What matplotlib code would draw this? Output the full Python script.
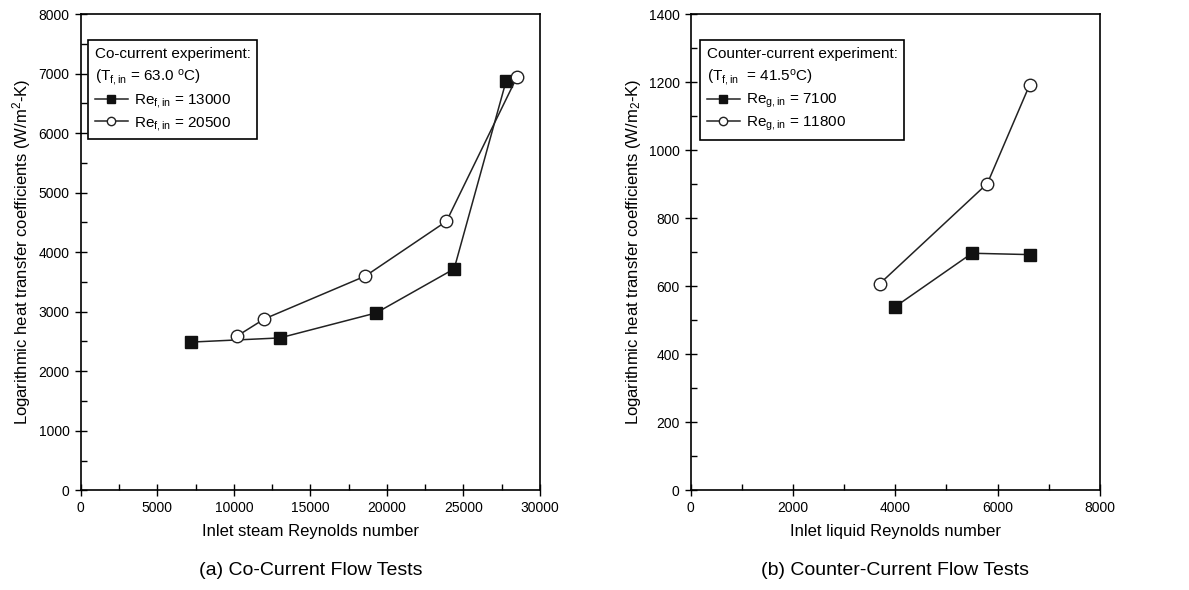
import matplotlib
matplotlib.use('Agg')
import matplotlib.pyplot as plt
from matplotlib.ticker import MultipleLocator

plt.rcParams['font.family'] = ['Liberation Sans', 'DejaVu Sans']
plt.rcParams['mathtext.fontset'] = 'custom'
plt.rcParams['mathtext.rm'] = 'Liberation Sans'
plt.rcParams['mathtext.it'] = 'Liberation Sans'

# (a) co-current flow
co_x_13000 = [7200, 13000, 19300, 24400, 27800]
co_y_13000 = [2490, 2560, 2980, 3720, 6880]
co_x_20500 = [10200, 12000, 18600, 23900, 28500]
co_y_20500 = [2590, 2880, 3600, 4520, 6940]

# (b) counter-current flow
cc_x_7100 = [4000, 5500, 6630]
cc_y_7100 = [540, 697, 693]
cc_x_11800 = [3700, 5800, 6630]
cc_y_11800 = [608, 902, 1193]

fig = plt.figure(figsize=(11.89, 5.90), dpi=100)
ax1 = fig.add_axes([0.068, 0.169, 0.386, 0.807])
ax2 = fig.add_axes([0.581, 0.169, 0.344, 0.807])


def style_axes(ax, xmax, xmaj, ymax, ymaj):
    ax.set_xlim(0, xmax)
    ax.set_ylim(0, ymax)
    ax.xaxis.set_major_locator(MultipleLocator(xmaj))
    ax.xaxis.set_minor_locator(MultipleLocator(xmaj / 2))
    ax.yaxis.set_major_locator(MultipleLocator(ymaj))
    ax.yaxis.set_minor_locator(MultipleLocator(ymaj / 2))
    ax.tick_params(which='major', direction='inout', length=8, width=1, labelsize=10, pad=4)
    ax.tick_params(which='minor', direction='in', length=4, width=1)
    for s in ax.spines.values():
        s.set_linewidth(1.2)


def add_series(ax, xs1, ys1, lab1, xs2, ys2, lab2):
    ax.plot(xs1, ys1, '-', color='#222222', lw=1.1, marker='s', ms=8,
            mfc='#111111', mec='#111111', label=lab1)
    ax.plot(xs2, ys2, '-', color='#222222', lw=1.1, marker='o', ms=9,
            mfc='white', mec='#222222', mew=1.0, label=lab2)


def add_legend(ax, title, anchor):
    leg = ax.legend(loc='upper left', bbox_to_anchor=anchor, borderaxespad=0,
                    title=title, alignment='left', fontsize=11, title_fontsize=11,
                    handlelength=2.2, fancybox=False, edgecolor='black', framealpha=1,
                    labelspacing=0.3, handletextpad=0.4, borderpad=0.45)
    leg.get_frame().set_linewidth(1.2)
    leg.get_title().set_linespacing(1.45)
    for h in leg.legend_handles:
        h.set_markersize(6)
    return leg


add_series(ax1, co_x_13000, co_y_13000, r'Re$_{\mathregular{f,in}}$ = 13000',
           co_x_20500, co_y_20500, r'Re$_{\mathregular{f,in}}$ = 20500')
style_axes(ax1, 30000, 5000, 8000, 1000)
ax1.set_xlabel('Inlet steam Reynolds number', fontsize=12, labelpad=6)
ax1.set_ylabel(r'Logarithmic heat transfer coefficients (W/m$^{\mathregular{2}}$-K)', fontsize=12)
add_legend(ax1, 'Co-current experiment:\n' + r'(T$_{\mathregular{f,in}}$ = 63.0 $^{\mathregular{o}}$C)',
           (0.015, 0.945))

add_series(ax2, cc_x_7100, cc_y_7100, r'Re$_{\mathregular{g,in}}$ = 7100',
           cc_x_11800, cc_y_11800, r'Re$_{\mathregular{g,in}}$ = 11800')
style_axes(ax2, 8000, 2000, 1400, 200)
ax2.set_xlabel('Inlet liquid Reynolds number', fontsize=12, labelpad=6)
ax2.set_ylabel(r'Logarithmic heat transfer coefficients (W/m$_{\mathregular{2}}$-K)', fontsize=12)
add_legend(ax2, 'Counter-current experiment:\n' + r'(T$_{\mathregular{f,in}}$  = 41.5$^{\mathregular{o}}$C)',
           (0.022, 0.945))

fig.text(0.261, 0.025, '(a) Co-Current Flow Tests', ha='center', fontsize=14)
fig.text(0.753, 0.025, '(b) Counter-Current Flow Tests', ha='center', fontsize=14)

fig.savefig('out.png', dpi=100)
